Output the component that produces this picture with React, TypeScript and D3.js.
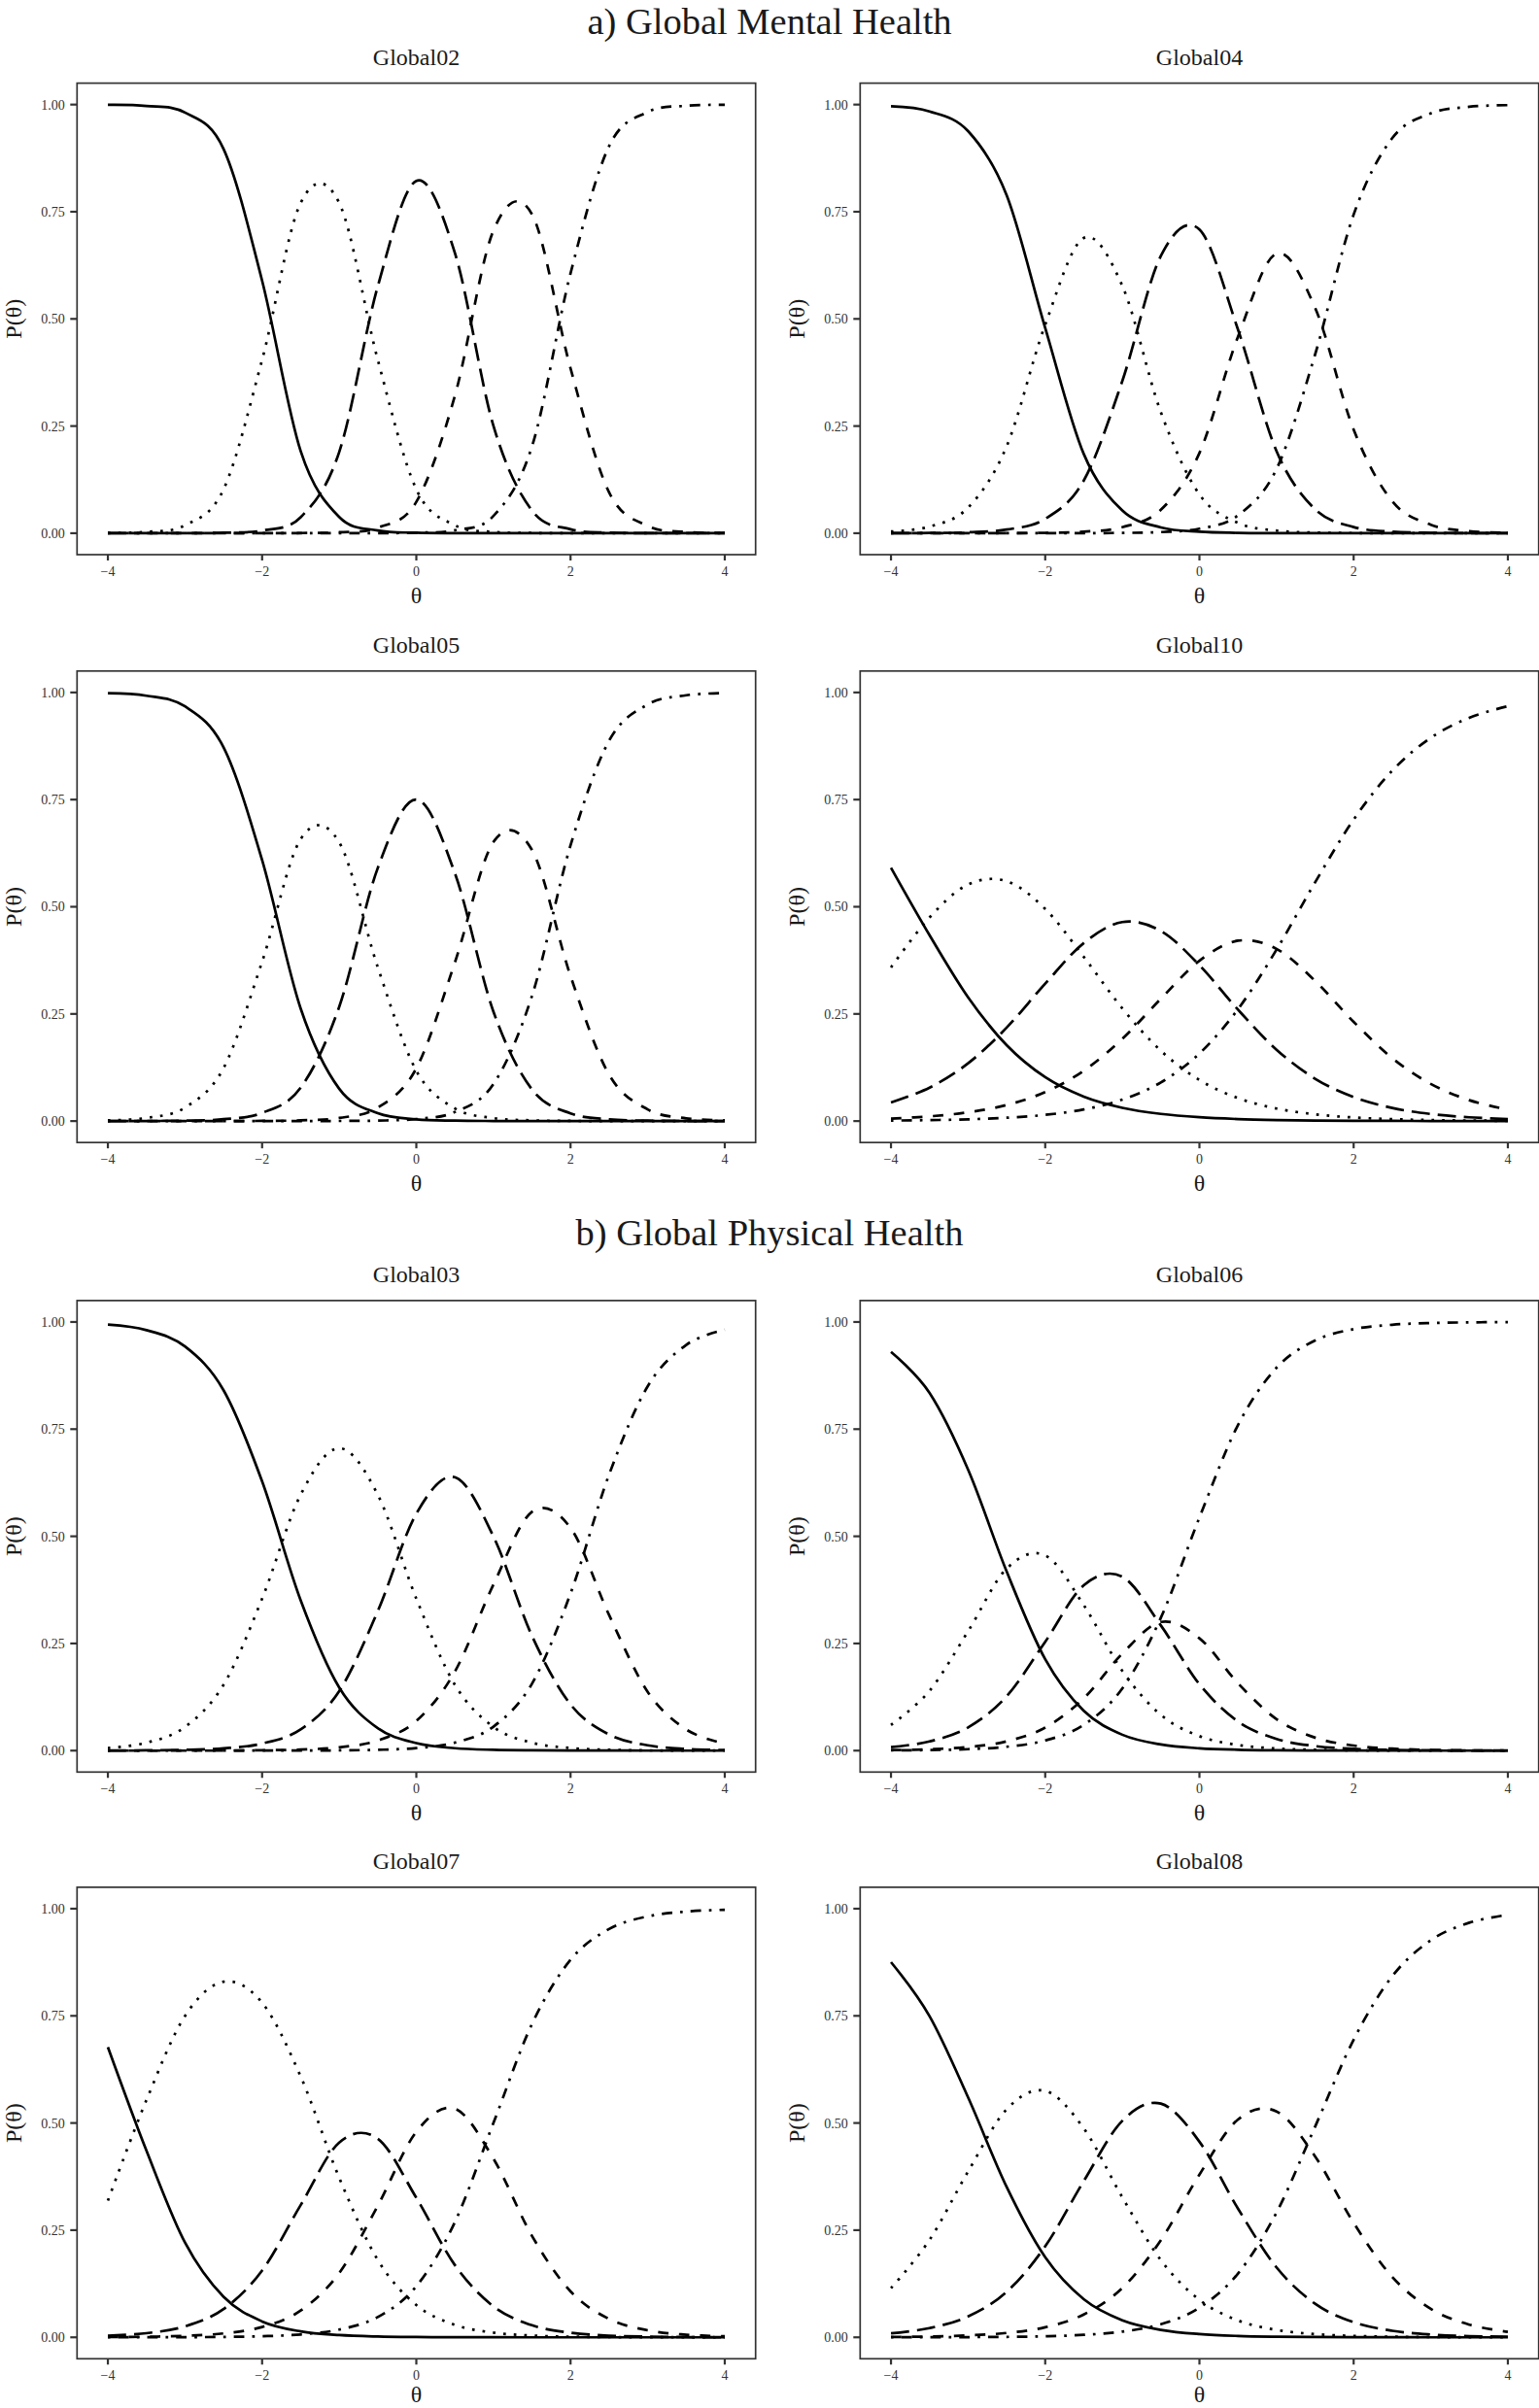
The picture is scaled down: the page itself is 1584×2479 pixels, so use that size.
import React from "react";
import * as d3 from "d3";

// ---------- data ----------
const theta = [-4, -3.5, -3, -2.5, -2, -1.5, -1, -0.5, 0, 0.5, 1, 1.5, 2, 2.5, 3, 3.5, 4];
const sectionTitles = ["a) Global Mental Health", "b) Global Physical Health"];
const itemNames = ["Global02", "Global04", "Global05", "Global10", "Global03", "Global06", "Global07", "Global08"];
const xTicks = [-4, -2, 0, 2, 4];
const yTicks = [0, 0.25, 0.5, 0.75, 1];
const categoryDash = ["", "2.7 8.1", "18.9 8.1", "10.8 10.8", "2.7 8.1 10.8 8.1"];

const global02 = [
  [0.9995, 0.9969, 0.9813, 0.8965, 0.589, 0.1916, 0.0378, 0.0064, 0.0011, 0.0002, 0, 0, 0, 0, 0, 0, 0],
  [0.0005, 0.0031, 0.0185, 0.1024, 0.4046, 0.7706, 0.7706, 0.4046, 0.1024, 0.0185, 0.0031, 0.0005, 0.0001, 0, 0, 0, 0],
  [0, 0, 0.0002, 0.0011, 0.0063, 0.0374, 0.1894, 0.5759, 0.822, 0.6539, 0.2504, 0.0527, 0.0091, 0.0015, 0.0002, 0, 0],
  [0, 0, 0, 0, 0.0001, 0.0004, 0.0022, 0.0129, 0.0733, 0.3205, 0.7062, 0.7442, 0.3845, 0.0954, 0.0172, 0.0029, 0.0005],
  [0, 0, 0, 0, 0, 0, 0, 0.0002, 0.0012, 0.0069, 0.0403, 0.2026, 0.6063, 0.9031, 0.9826, 0.9971, 0.9995],
];
const global04 = [
  [0.996, 0.984, 0.938, 0.7885, 0.479, 0.1848, 0.0529, 0.0136, 0.0034, 0.0008, 0.0002, 0, 0, 0, 0, 0, 0],
  [0.0039, 0.0155, 0.0598, 0.2028, 0.4865, 0.6887, 0.5771, 0.2821, 0.0904, 0.0241, 0.0061, 0.0015, 0.0004, 0.0001, 0, 0, 0],
  [0.0001, 0.0005, 0.0021, 0.0085, 0.0336, 0.1228, 0.3552, 0.647, 0.7084, 0.4751, 0.1915, 0.0558, 0.0144, 0.0036, 0.0009, 0.0002, 0.0001],
  [0, 0, 0.0001, 0.0002, 0.0009, 0.0035, 0.0141, 0.0547, 0.1872, 0.4584, 0.6524, 0.5259, 0.2418, 0.0747, 0.0197, 0.0049, 0.0012],
  [0, 0, 0, 0, 0, 0.0002, 0.0007, 0.0026, 0.0106, 0.0416, 0.1498, 0.4168, 0.7434, 0.9216, 0.9794, 0.9949, 0.9987],
];
const global05 = [
  [0.9982, 0.9924, 0.9675, 0.8719, 0.6089, 0.2626, 0.0754, 0.0183, 0.0042, 0.001, 0.0002, 0, 0, 0, 0, 0, 0],
  [0.0017, 0.0074, 0.0315, 0.1236, 0.3717, 0.6578, 0.6504, 0.3589, 0.1175, 0.0297, 0.007, 0.0017, 0.0004, 0.0001, 0, 0, 0],
  [0.0001, 0.0002, 0.001, 0.0044, 0.019, 0.0778, 0.2666, 0.5903, 0.7502, 0.5782, 0.2554, 0.0737, 0.0179, 0.0041, 0.001, 0.0002, 0],
  [0, 0, 0, 0.0001, 0.0004, 0.0017, 0.0073, 0.0314, 0.1232, 0.37, 0.6511, 0.6325, 0.3383, 0.1083, 0.0272, 0.0064, 0.0015],
  [0, 0, 0, 0, 0, 0.0001, 0.0003, 0.0011, 0.0049, 0.0211, 0.0863, 0.2921, 0.6434, 0.8875, 0.9718, 0.9934, 0.9985],
];
const global10 = [
  [0.591, 0.4337, 0.2887, 0.177, 0.1023, 0.057, 0.031, 0.0167, 0.0089, 0.0047, 0.0025, 0.0013, 0.0007, 0.0004, 0.0002, 0.0001, 0.0001],
  [0.3585, 0.4751, 0.552, 0.5596, 0.4949, 0.383, 0.2629, 0.1641, 0.0958, 0.0536, 0.0293, 0.0158, 0.0084, 0.0045, 0.0024, 0.0013, 0.0006],
  [0.0435, 0.078, 0.1348, 0.2181, 0.3206, 0.4154, 0.4643, 0.4435, 0.3636, 0.2599, 0.1665, 0.0988, 0.0559, 0.0306, 0.0165, 0.0088, 0.0048],
  [0.0058, 0.011, 0.0204, 0.0375, 0.0677, 0.1175, 0.1918, 0.2854, 0.3741, 0.4208, 0.4018, 0.3271, 0.2315, 0.147, 0.0867, 0.0488, 0.0266],
  [0.0012, 0.0022, 0.0041, 0.0078, 0.0145, 0.0271, 0.05, 0.0903, 0.1576, 0.261, 0.3999, 0.557, 0.7035, 0.8175, 0.8942, 0.941, 0.9679],
];
const global03 = [
  [0.9938, 0.981, 0.9429, 0.8408, 0.6281, 0.3507, 0.1472, 0.0523, 0.0174, 0.0056, 0.0018, 0.0006, 0.0002, 0.0001, 0, 0, 0],
  [0.006, 0.0184, 0.0553, 0.1536, 0.3545, 0.597, 0.7056, 0.597, 0.3545, 0.1536, 0.0553, 0.0184, 0.006, 0.0019, 0.0006, 0.0002, 0.0001],
  [0.0002, 0.0006, 0.0017, 0.0053, 0.0165, 0.0496, 0.1389, 0.3253, 0.5528, 0.6378, 0.4997, 0.2676, 0.1077, 0.0375, 0.0124, 0.004, 0.0012],
  [0, 0, 0.0001, 0.0003, 0.0008, 0.0025, 0.0077, 0.0235, 0.0693, 0.1844, 0.3873, 0.5572, 0.5195, 0.3164, 0.1372, 0.0493, 0.0165],
  [0, 0, 0, 0, 0.0001, 0.0002, 0.0006, 0.0019, 0.006, 0.0186, 0.0559, 0.1562, 0.3666, 0.6441, 0.8498, 0.9465, 0.9822],
];
const global06 = [
  [0.9304, 0.8346, 0.6556, 0.4179, 0.2131, 0.0927, 0.0371, 0.0143, 0.0055, 0.0021, 0.0008, 0.0003, 0.0001, 0, 0, 0, 0],
  [0.0597, 0.1395, 0.2785, 0.4246, 0.4555, 0.3395, 0.186, 0.0834, 0.0337, 0.0131, 0.005, 0.0019, 0.0007, 0.0003, 0.0001, 0, 0],
  [0.0082, 0.0214, 0.0541, 0.1268, 0.2539, 0.3856, 0.4056, 0.292, 0.1549, 0.068, 0.0273, 0.0106, 0.0041, 0.0015, 0.0006, 0.0003, 0.0001],
  [0.0012, 0.0032, 0.0084, 0.0217, 0.0539, 0.1221, 0.2263, 0.3002, 0.2621, 0.1572, 0.0735, 0.0303, 0.0118, 0.0046, 0.0017, 0.0006, 0.0002],
  [0.0005, 0.0013, 0.0034, 0.009, 0.0236, 0.0601, 0.145, 0.3101, 0.5438, 0.7596, 0.8934, 0.9569, 0.9833, 0.9936, 0.9976, 0.9991, 0.9997],
];
const global07 = [
  [0.677, 0.4354, 0.221, 0.0945, 0.037, 0.0139, 0.0052, 0.0019, 0.0007, 0.0003, 0.0001, 0, 0, 0, 0, 0, 0],
  [0.3189, 0.5536, 0.7497, 0.8296, 0.7806, 0.6086, 0.3723, 0.1805, 0.0752, 0.029, 0.0109, 0.0041, 0.0015, 0.0006, 0.0002, 0.0001, 0],
  [0.0036, 0.0096, 0.0256, 0.0659, 0.1558, 0.3084, 0.4545, 0.4633, 0.3254, 0.1685, 0.0722, 0.0282, 0.0106, 0.0039, 0.0015, 0.0005, 0.0002],
  [0.0005, 0.0013, 0.0034, 0.0091, 0.0241, 0.0624, 0.15, 0.3069, 0.4795, 0.5333, 0.4168, 0.2366, 0.1071, 0.0429, 0.0163, 0.0061, 0.0023],
  [0, 0.0001, 0.0003, 0.0009, 0.0025, 0.0067, 0.018, 0.0474, 0.1192, 0.2689, 0.5, 0.7311, 0.8808, 0.9526, 0.982, 0.9933, 0.9975],
];
const global08 = [
  [0.8753, 0.7492, 0.5596, 0.3508, 0.1869, 0.089, 0.0399, 0.0174, 0.0075, 0.0032, 0.0014, 0.0006, 0.0002, 0.0001, 0, 0, 0],
  [0.1146, 0.2273, 0.3869, 0.5319, 0.5749, 0.4874, 0.3266, 0.1801, 0.0873, 0.0394, 0.0172, 0.0074, 0.0032, 0.0014, 0.0006, 0.0003, 0.0001],
  [0.0092, 0.0215, 0.0487, 0.1061, 0.2123, 0.3646, 0.5051, 0.5452, 0.4563, 0.3004, 0.1631, 0.0783, 0.0352, 0.0153, 0.0066, 0.0028, 0.0012],
  [0.0008, 0.0018, 0.0044, 0.0102, 0.0235, 0.0533, 0.1151, 0.2267, 0.3797, 0.5082, 0.527, 0.4222, 0.267, 0.1409, 0.0665, 0.0296, 0.0129],
  [0.0001, 0.0002, 0.0004, 0.001, 0.0024, 0.0057, 0.0133, 0.0306, 0.0692, 0.1488, 0.2913, 0.4915, 0.6944, 0.8423, 0.9263, 0.9673, 0.9858],
];
const itemCurves = [global02, global04, global05, global10, global03, global06, global07, global08];

// ---------- layout ----------
const W = 1584;
const H = 2479;
const COL_LEFT = [79.3, 885.3];
const ROW_TOP = [85.6, 690.8, 1338.9, 1942.9];
const PW = 698.4;
const PH = 485.4;
const SECTION_BASELINE = [34.5, 1282];
const FONT = "'Liberation Serif', 'Times New Roman', Times, serif";
const INK = "#1a1a1a";
const AXIS = "#333333";

function Panel({ idx }: { idx: number }) {
  const col = idx % 2;
  const row = Math.floor(idx / 2);
  const left = COL_LEFT[col];
  const top = ROW_TOP[row];
  const x = d3.scaleLinear().domain([-4.4, 4.4]).range([left, left + PW]);
  const y = d3.scaleLinear().domain([-0.05, 1.05]).range([top + PH, top]);
  const line = d3
    .line<[number, number]>()
    .x((d) => x(d[0]))
    .y((d) => y(d[1]))
    .curve(d3.curveCatmullRom.alpha(0));
  const curves = itemCurves[idx];
  const bottom = top + PH;
  const cx = left + PW / 2;
  const cy = top + PH / 2;
  return (
    <g>
      <text x={cx} y={top - 18.9} textAnchor="middle" fontFamily={FONT} fontSize={24} fill={INK}>
        {itemNames[idx]}
      </text>
      {curves.map((vals, c) => (
        <path
          key={c}
          d={line(theta.map((t, i) => [t, vals[i]] as [number, number])) || ""}
          fill="none"
          stroke="#000"
          strokeWidth={2.7}
          strokeDasharray={categoryDash[c] || undefined}
        />
      ))}
      <rect x={left} y={top} width={PW} height={PH} fill="none" stroke={AXIS} strokeWidth={1.7} />
      {yTicks.map((v) => (
        <g key={"y" + v}>
          <line x1={left - 7} x2={left} y1={y(v)} y2={y(v)} stroke={AXIS} strokeWidth={2.2} />
          <text
            x={left - 12.6}
            y={y(v)}
            dy="0.35em"
            textAnchor="end"
            fontFamily={FONT}
            fontSize={14}
            fill="#333"
          >
            {d3.format(".2f")(v)}
          </text>
        </g>
      ))}
      {xTicks.map((v) => (
        <g key={"x" + v}>
          <line x1={x(v)} x2={x(v)} y1={bottom} y2={bottom + 6} stroke={AXIS} strokeWidth={2.2} />
          <text x={x(v)} y={bottom + 22} textAnchor="middle" fontFamily={FONT} fontSize={14} fill="#333">
            {v < 0 ? "\u2212" + Math.abs(v) : String(v)}
          </text>
        </g>
      ))}
      <text
        x={cx}
        y={Math.min(bottom + 50, H - 6)}
        textAnchor="middle"
        fontFamily={FONT}
        fontSize={24}
        fill={INK}
      >
        θ
      </text>
      <text
        transform={`translate(${left - 57},${cy}) rotate(-90)`}
        textAnchor="middle"
        fontFamily={FONT}
        fontSize={24}
        fill={INK}
      >
        P(θ)
      </text>
    </g>
  );
}

export default function App() {
  return (
    <div style={{ position: "absolute", left: 0, top: 0, width: W, height: H, background: "#fff" }}>
      <svg width={W} height={H} viewBox={`0 0 ${W} ${H}`} style={{ display: "block" }}>
        <rect x={0} y={0} width={W} height={H} fill="#fff" />
        {sectionTitles.map((t, i) => (
          <text
            key={t}
            x={W / 2}
            y={SECTION_BASELINE[i]}
            textAnchor="middle"
            fontFamily={FONT}
            fontSize={38.5}
            fill={INK}
          >
            {t}
          </text>
        ))}
        {itemNames.map((_, i) => (
          <Panel key={i} idx={i} />
        ))}
      </svg>
    </div>
  );
}
